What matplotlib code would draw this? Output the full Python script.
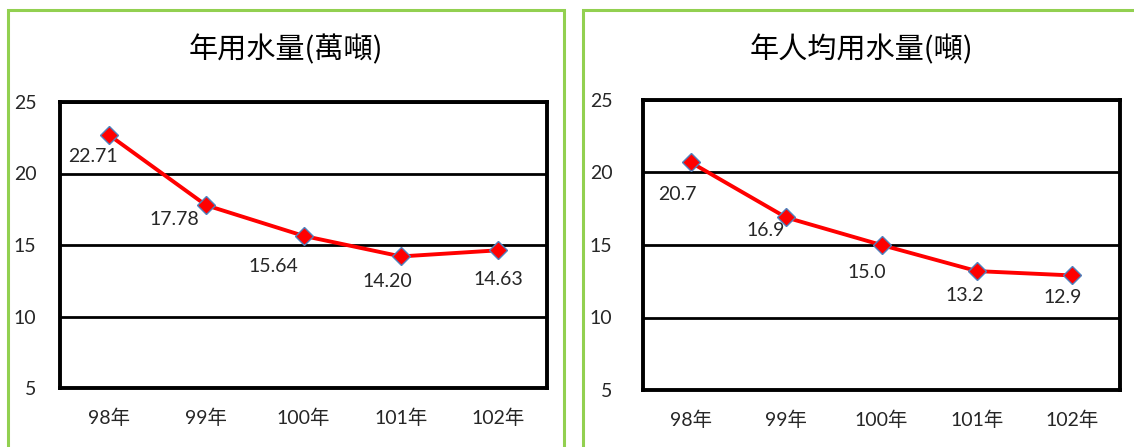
import matplotlib

matplotlib.use('Agg')
import matplotlib.pyplot as plt
from matplotlib.patches import Rectangle

plt.rcParams['font.family'] = ['Lato', 'Noto Sans CJK TC', 'DejaVu Sans']

# data
years = ['98年', '99年', '100年', '101年', '102年']
total_use = [22.71, 17.78, 15.64, 14.20, 14.63]
total_labels = ['22.71', '17.78', '15.64', '14.20', '14.63']
per_capita = [20.7, 16.9, 15.0, 13.2, 12.9]
per_capita_labels = ['20.7', '16.9', '15.0', '13.2', '12.9']
y_ticks = [5, 10, 15, 20, 25]

W, H = 1134, 447
fig = plt.figure(figsize=(W / 100, H / 100), dpi=100)

GREEN = '#92D050'
RED = '#FF0000'
EDGE = '#4F81BD'


def px_axes(x0, x1, top, bottom):
    return fig.add_axes([x0 / W, (H - bottom) / H, (x1 - x0) / W, (bottom - top) / H])


def panel(x0, x1, title, ax_box, values, labels, offsets, ypad):
    # green frame around each chart
    fig.patches.append(Rectangle((x0 / W, -0.1), (x1 - x0) / W, (H - 10) / H + 0.1,
                                 transform=fig.transFigure, fill=False,
                                 edgecolor=GREEN, linewidth=2.2, zorder=0))
    fig.text((x0 + x1) / 2 / W, (H - 50) / H, title, ha='center', va='center',
             fontsize=21, family=['Noto Sans CJK TC'])

    ax = px_axes(*ax_box)
    xs = range(len(years))
    ax.plot(xs, values, color=RED, linewidth=2.8, marker='D', markersize=9,
            markerfacecolor=RED, markeredgecolor=EDGE, markeredgewidth=1.0, zorder=3)
    for x, v, lab, (dx, dy) in zip(xs, values, labels, offsets):
        ax.annotate(lab, (x, v), xytext=(dx, dy), textcoords='offset pixels',
                    ha='center', va='center', fontsize=14, color='#262626')

    ax.set_xlim(-0.5, len(years) - 0.5)
    ax.set_ylim(5, 25)
    ax.set_yticks(y_ticks)
    ax.set_xticks(list(xs))
    ax.set_xticklabels(years)
    ax.tick_params(length=0, labelsize=14, labelcolor='#262626')
    ax.tick_params(axis='y', pad=ypad)
    ax.tick_params(axis='x', pad=15)
    ax.yaxis.grid(True, color='black', linewidth=2.0)
    ax.set_axisbelow(True)
    for s in ax.spines.values():
        s.set_linewidth(2.8)
        s.set_color('black')
    return ax


panel(8, 564, '年用水量(萬噸)', (60, 547, 102, 388), total_use, total_labels,
      [(-16, -22), (-32, -14), (-30, -31), (-14, -25), (0, -29)], 17)
panel(583, 1140, '年人均用水量(噸)', (643, 1120, 100, 390), per_capita, per_capita_labels,
      [(-13, -32), (-20, -13), (-15, -28), (-12, -24), (-10, -22)], 22)

fig.savefig('out.png', dpi=100)
